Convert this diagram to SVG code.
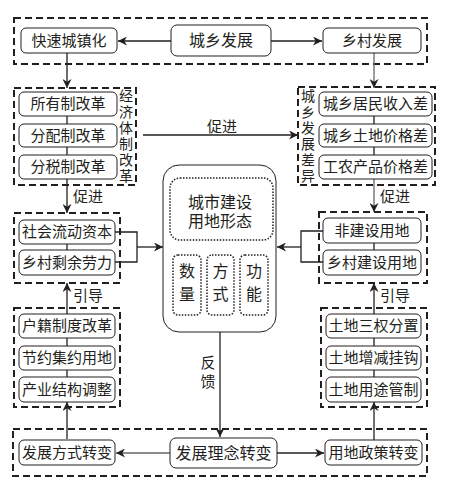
<svg xmlns="http://www.w3.org/2000/svg" width="452" height="489" viewBox="0 0 452 489">
<style>
text{font-family:"Liberation Serif","Noto Sans CJK SC",serif;font-size:15px;fill:#231f20;text-anchor:middle;dominant-baseline:central}
.grp{fill:none;stroke:#231f20;stroke-width:2;stroke-dasharray:7,4}
.nd{fill:#fff;stroke:#231f20;stroke-width:1}
.dot{fill:#fff;stroke:#231f20;stroke-width:1.5;stroke-dasharray:1.5,1.5}
.ln{fill:none;stroke:#231f20;stroke-width:1.3}
.gl{fill:none;stroke:#666;stroke-width:1.3}
.lbl{font-size:14px}
.big{font-size:16px}
</style>
<defs>
<marker id="ah" viewBox="0 0 10 10" refX="10" refY="5" markerWidth="9" markerHeight="9" markerUnits="userSpaceOnUse" orient="auto"><path d="M0,0 L10,5 L0,10 L3,5 Z" fill="#231f20"/></marker>
</defs>
<g id="groups">
<rect class="grp" x="14" y="18" width="413" height="46"/>
<rect class="grp" x="14" y="88" width="122" height="97"/>
<rect class="grp" x="298" y="87" width="137" height="98"/>
<rect class="grp" x="14" y="213" width="106" height="70"/>
<rect class="grp" x="319" y="212" width="108" height="71"/>
<rect class="grp" x="14" y="308" width="106" height="99"/>
<rect class="grp" x="321" y="308" width="106" height="99"/>
<rect class="grp" x="13" y="429" width="414" height="47"/>
</g>
<g id="connectors">
<line class="ln" x1="171" y1="41" x2="118" y2="41" marker-end="url(#ah)"/>
<line class="ln" x1="271" y1="41" x2="322" y2="41" marker-end="url(#ah)"/>
<line class="ln" x1="67" y1="53" x2="67" y2="88" marker-end="url(#ah)"/>
<line class="gl" x1="374" y1="53" x2="374" y2="88" marker-end="url(#ah)"/>
<line class="ln" x1="67" y1="116" x2="67" y2="155"/>
<line class="ln" x1="374" y1="116" x2="374" y2="155"/>
<line class="ln" x1="143" y1="135" x2="298" y2="135" marker-end="url(#ah)"/>
<line class="ln" x1="67" y1="179" x2="67" y2="213" marker-end="url(#ah)"/>
<line class="gl" x1="374" y1="179" x2="374" y2="212" marker-end="url(#ah)"/>
<line class="ln" x1="67" y1="244" x2="67" y2="250"/>
<line class="ln" x1="374" y1="243" x2="374" y2="250"/>
<polyline class="ln" points="115,232 137,232 137,262 115,262"/>
<line class="ln" x1="137" y1="247" x2="163" y2="247" marker-end="url(#ah)"/>
<polyline class="ln" points="323,231 301,231 301,262 323,262"/>
<line class="ln" x1="301" y1="247" x2="277" y2="247" marker-end="url(#ah)"/>
<line class="ln" x1="187" y1="240" x2="187" y2="255" marker-end="url(#ah)"/>
<line class="ln" x1="220" y1="240" x2="220" y2="255" marker-end="url(#ah)"/>
<line class="ln" x1="254" y1="240" x2="254" y2="255" marker-end="url(#ah)"/>
<line class="ln" x1="67" y1="314" x2="67" y2="283" marker-end="url(#ah)"/>
<line class="ln" x1="374" y1="314" x2="374" y2="283" marker-end="url(#ah)"/>
<line class="ln" x1="67" y1="338" x2="67" y2="346"/>
<line class="ln" x1="67" y1="370" x2="67" y2="377"/>
<line class="ln" x1="374" y1="338" x2="374" y2="346"/>
<line class="ln" x1="374" y1="370" x2="374" y2="377"/>
<line class="ln" x1="67" y1="439" x2="67" y2="402" marker-end="url(#ah)"/>
<line class="ln" x1="374" y1="440" x2="374" y2="402" marker-end="url(#ah)"/>
<line class="ln" x1="220" y1="332" x2="220" y2="437" marker-end="url(#ah)"/>
<line class="gl" x1="170" y1="453" x2="116" y2="453" marker-end="url(#ah)"/>
<line class="ln" x1="277" y1="453" x2="324" y2="453" marker-end="url(#ah)"/>
<text x="222" y="127">促进</text>
<text x="88" y="197">促进</text>
<text x="395" y="197">促进</text>
<text x="88" y="296">引导</text>
<text x="395" y="296">引导</text>
<text x="208" y="363">反</text>
<text x="208" y="382">馈</text>
</g>
<g id="n-kuaisu"><rect class="nd" x="21" y="28" width="96" height="25" rx="5"/><text x="69" y="40.5">快速城镇化</text></g>
<g id="n-chengxiang"><rect class="nd" x="171" y="25" width="100" height="31" rx="6"/><text class="big" x="221" y="40.5">城乡发展</text></g>
<g id="n-xiangcun"><rect class="nd" x="323" y="28" width="98" height="25" rx="5"/><text x="372" y="40.5">乡村发展</text></g>
<g id="n-jingji">
<rect class="nd" x="19" y="92" width="98" height="24" rx="5"/><text x="68" y="104">所有制改革</text>
<rect class="nd" x="19" y="124" width="98" height="23" rx="5"/><text x="68" y="135.5">分配制改革</text>
<rect class="nd" x="19" y="155" width="98" height="24" rx="5"/><text x="68" y="167">分税制改革</text>
<text class="lbl" x="126" y="96">经</text><text class="lbl" x="126" y="112">济</text><text class="lbl" x="126" y="128">体</text><text class="lbl" x="126" y="144">制</text><text class="lbl" x="126" y="160">改</text><text class="lbl" x="126" y="176">革</text>
</g>
<g id="n-chayi">
<rect class="nd" x="319" y="92" width="113" height="24" rx="5"/><text x="375.5" y="104">城乡居民收入差</text>
<rect class="nd" x="319" y="124" width="113" height="23" rx="5"/><text x="375.5" y="135.5">城乡土地价格差</text>
<rect class="nd" x="319" y="155" width="113" height="24" rx="5"/><text x="375.5" y="167">工农产品价格差</text>
<text class="lbl" x="308" y="96">城</text><text class="lbl" x="308" y="112">乡</text><text class="lbl" x="308" y="128">发</text><text class="lbl" x="308" y="144">展</text><text class="lbl" x="308" y="160">差</text><text class="lbl" x="308" y="176">异</text>
</g>
<g id="n-ziben">
<rect class="nd" x="19" y="220" width="96" height="24" rx="5"/><text x="67" y="232">社会流动资本</text>
<rect class="nd" x="19" y="250" width="96" height="25" rx="5"/><text x="67" y="262.5">乡村剩余劳力</text>
</g>
<g id="n-yongdi">
<rect class="nd" x="323" y="218" width="98" height="25" rx="5"/><text x="372" y="230.5">非建设用地</text>
<rect class="nd" x="323" y="250" width="98" height="25" rx="5"/><text x="372" y="262.5">乡村建设用地</text>
</g>
<g id="n-center">
<rect class="nd" x="163" y="165" width="113" height="167" rx="16"/>
<rect class="dot" x="170" y="178" width="103" height="62" rx="10"/>
<text class="big" x="220" y="202">城市建设</text><text class="big" x="220" y="221">用地形态</text>
<rect class="dot" x="173" y="255" width="28" height="60" rx="5"/><text class="big" x="187" y="271">数</text><text class="big" x="187" y="294">量</text>
<rect class="dot" x="207" y="255" width="27" height="60" rx="5"/><text class="big" x="220.5" y="271">方</text><text class="big" x="220.5" y="294">式</text>
<rect class="dot" x="240" y="255" width="28" height="60" rx="5"/><text class="big" x="254" y="271">功</text><text class="big" x="254" y="294">能</text>
</g>
<g id="n-zhidu">
<rect class="nd" x="19" y="314" width="96" height="24" rx="5"/><text x="67" y="326">户籍制度改革</text>
<rect class="nd" x="19" y="346" width="96" height="24" rx="5"/><text x="67" y="358">节约集约用地</text>
<rect class="nd" x="19" y="377" width="96" height="25" rx="5"/><text x="67" y="389.5">产业结构调整</text>
</g>
<g id="n-tudi">
<rect class="nd" x="326" y="314" width="95" height="24" rx="5"/><text x="373.5" y="326">土地三权分置</text>
<rect class="nd" x="326" y="346" width="95" height="24" rx="5"/><text x="373.5" y="358">土地增减挂钩</text>
<rect class="nd" x="326" y="377" width="95" height="25" rx="5"/><text x="373.5" y="389.5">土地用途管制</text>
</g>
<g id="n-fangshi"><rect class="nd" x="19" y="440" width="96" height="25" rx="5"/><text x="67" y="452.5">发展方式转变</text></g>
<g id="n-linian"><rect class="nd" x="170" y="438" width="107" height="30" rx="6"/><text class="big" x="223.5" y="453">发展理念转变</text></g>
<g id="n-zhengce"><rect class="nd" x="325" y="440" width="97" height="25" rx="5"/><text x="373.5" y="452.5">用地政策转变</text></g>
</svg>
